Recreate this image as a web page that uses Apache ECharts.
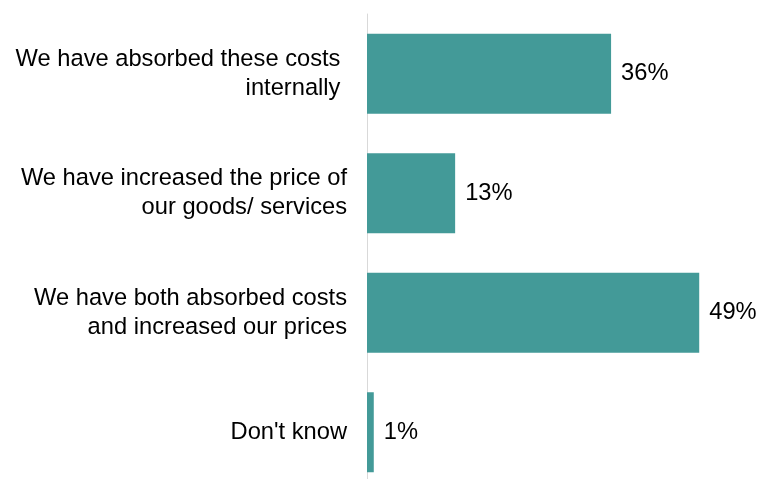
<!DOCTYPE html>
<html><head><meta charset="utf-8">
<script src="https://cdn.jsdelivr.net/npm/echarts@6/dist/echarts.min.js"></script>
<style>html,body{margin:0;padding:0;background:#fff;overflow:hidden}#c{width:757px;height:492px}</style>
</head><body><div id="c"></div>
<script>
const categories = ["We have absorbed these costs \ninternally ", "We have increased the price of\nour goods/ services", "We have both absorbed costs\nand increased our prices", "Don't know"];
const values = [36, 13, 49, 1];

const chart = echarts.init(document.getElementById('c'), null, {renderer: 'canvas'});
chart.setOption({
  animation: false,
  grid: {left: 367, top: 14, width: 339, bottom: 0, containLabel: false},
  xAxis: {type: 'value', min: 0, max: 50, show: false},
  yAxis: {
    type: 'category', data: categories, inverse: true,
    axisLine: {show: true, lineStyle: {color: '#d9d9d9', width: 1}},
    axisTick: {show: false},
    axisLabel: {color: '#000', fontFamily: 'Liberation Sans, Arial', fontSize: 23.7, lineHeight: 29, margin: 20, align: 'right'}
  },
  series: [{
    type: 'bar', data: values, barWidth: 80,
    itemStyle: {color: '#439a98'},
    label: {show: true, position: 'right', distance: 10, formatter: '{c}%', color: '#000', fontFamily: 'Liberation Sans, Arial', fontSize: 23.7}
  }]
});
</script></body></html>
